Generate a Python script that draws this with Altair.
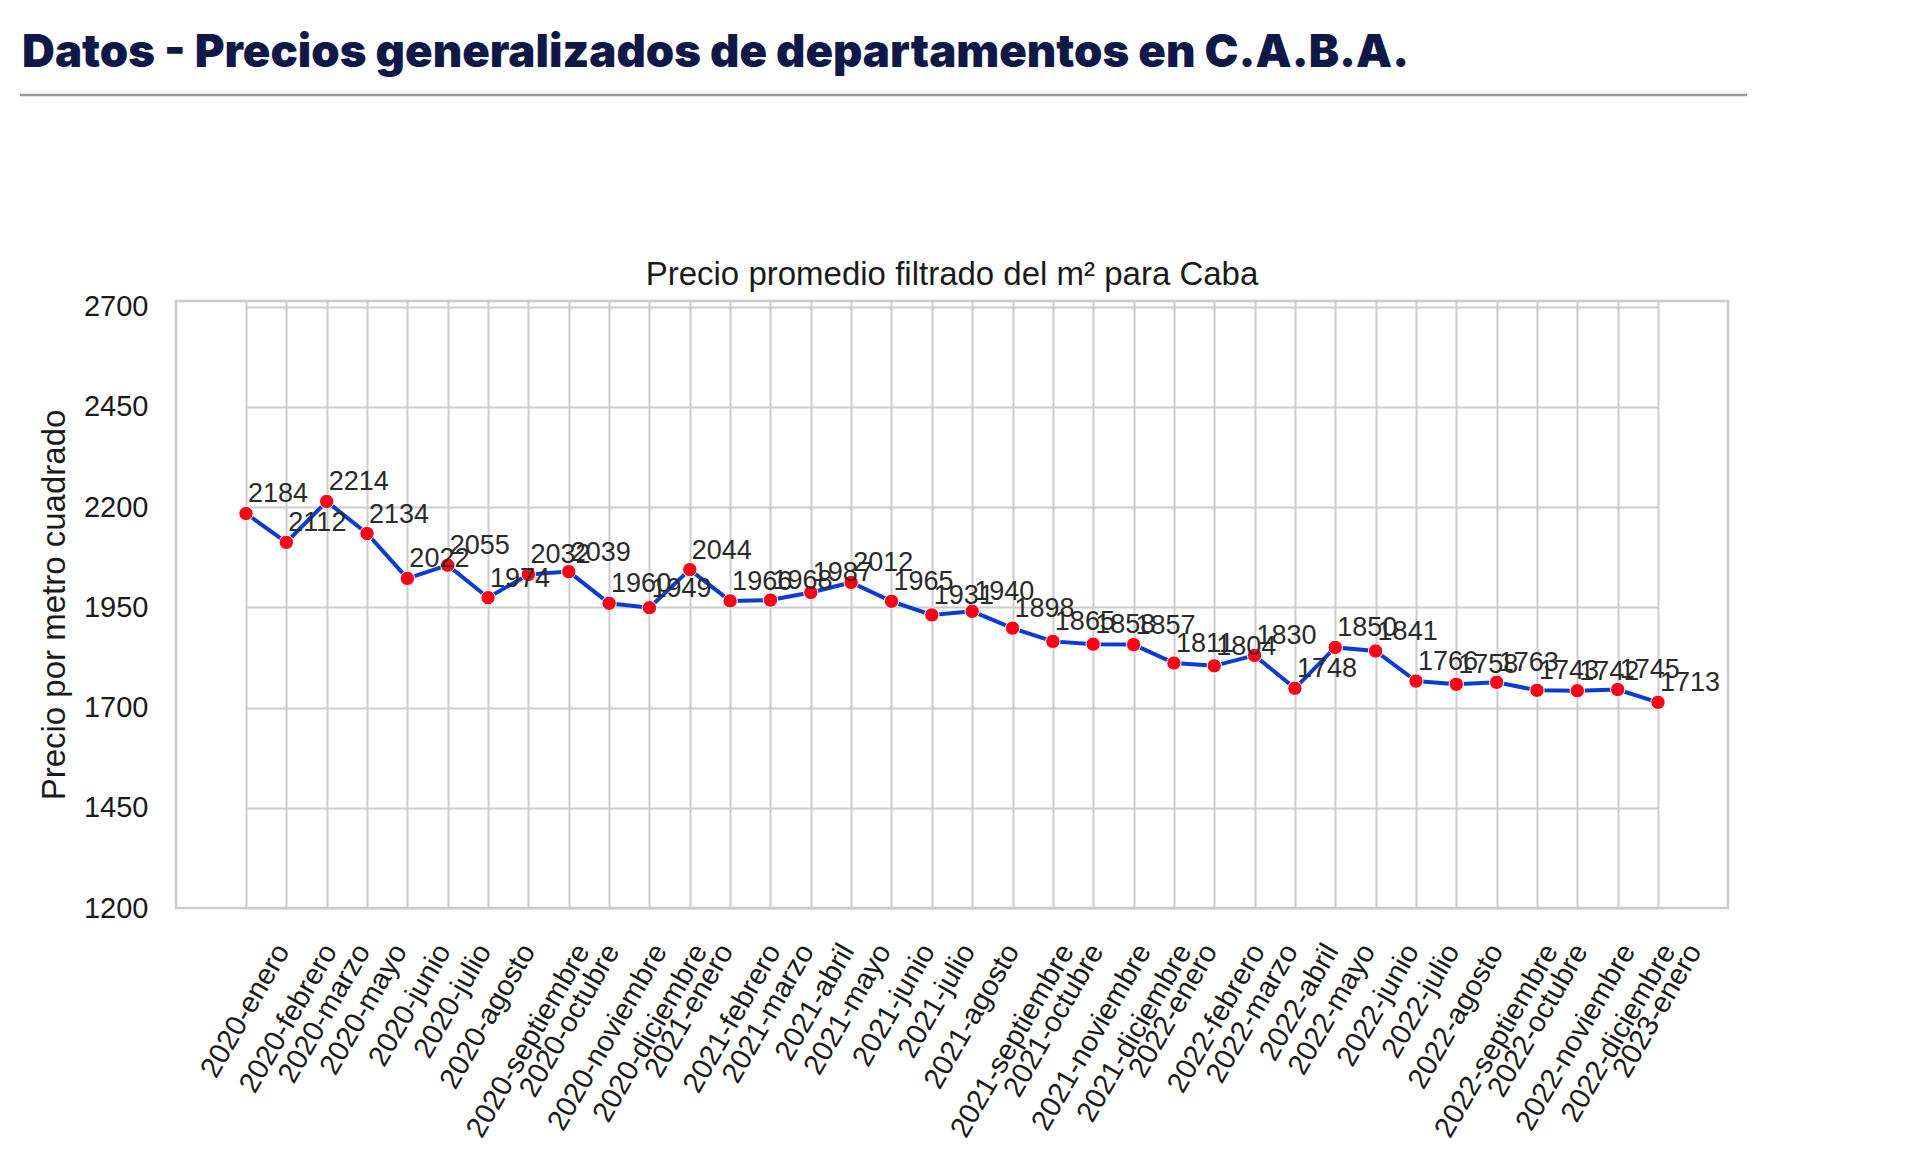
import altair as alt
import pandas as pd

TITLE = "Datos - Precios generalizados de departamentos en C.A.B.A."
CHART_TITLE = "Precio promedio filtrado del m² para Caba"
Y_TITLE = "Precio por metro cuadrado"

meses = [
    "2020-enero", "2020-febrero", "2020-marzo", "2020-mayo", "2020-junio", "2020-julio",
    "2020-agosto", "2020-septiembre", "2020-octubre", "2020-noviembre", "2020-diciembre",
    "2021-enero", "2021-febrero", "2021-marzo", "2021-abril", "2021-mayo", "2021-junio",
    "2021-julio", "2021-agosto", "2021-septiembre", "2021-octubre", "2021-noviembre",
    "2021-diciembre", "2022-enero", "2022-febrero", "2022-marzo", "2022-abril", "2022-mayo",
    "2022-junio", "2022-julio", "2022-agosto", "2022-septiembre", "2022-octubre",
    "2022-noviembre", "2022-diciembre", "2023-enero",
]
precios = [
    2184, 2112, 2214, 2134, 2022, 2055, 1974, 2032, 2039, 1960, 1949,
    2044, 1966, 1968, 1987, 2012, 1965, 1931, 1940, 1898, 1865, 1858,
    1857, 1811, 1804, 1830, 1748, 1850, 1841, 1766, 1758, 1763, 1743,
    1742, 1745, 1713,
]
y_ticks = [1200, 1450, 1700, 1950, 2200, 2450, 2700]

df = pd.DataFrame({"mes": meses, "precio": precios})

W, H = 1552, 607
FONT = "Liberation Sans"
TXT = "#1a1a1a"
GRID = "#cccccc"

x_enc = alt.X(
    "mes:N", sort=meses, title=None,
    scale=alt.Scale(type="point", range=[70, 1482], padding=0),
    axis=alt.Axis(
        labelAngle=300, labelAlign="right", labelBaseline="middle",
        labelFont=FONT, labelFontSize=29, labelColor=TXT,
        labelPadding=38, labelOffset={"expr": "3.6*length(datum.label)"},
        labelOverlap=False, labelLimit=500,
        ticks=False, domain=False, grid=True, gridColor=GRID, gridWidth=2,
    ),
)
y_enc = alt.Y(
    "precio:Q", title=Y_TITLE,
    scale=alt.Scale(domain=[1200, 2714], nice=False, zero=False),
    axis=alt.Axis(
        values=y_ticks, format="d", labelFont=FONT, labelFontSize=29,
        labelColor=TXT, labelPadding=28, ticks=False, domain=False, grid=True,
        gridColor=GRID, gridWidth=2,
        titleFont=FONT, titleFontSize=33, titleFontWeight="normal",
        titleColor=TXT, titlePadding=11.5,
    ),
)

base = alt.Chart(df).encode(x=x_enc, y=y_enc)

line = base.mark_line(color="#0a3bd3", strokeWidth=4)
pts = base.mark_circle(size=205, fill="#ff0016", stroke="white", strokeWidth=1, opacity=1)
labels = base.mark_text(
    align="left", baseline="alphabetic", dx=2, dy=-11,
    font=FONT, fontSize=27, color="#2a2a2a",
).encode(text="precio:Q")

head = alt.Chart(pd.DataFrame({"t": [TITLE]})).mark_text(
    align="left", baseline="alphabetic", font="Inter", fontSize=45.5,
    fontWeight=900, color="#101847",
).encode(text="t:N", x=alt.value(-154), y=alt.value(-234))

rule = alt.Chart(pd.DataFrame({"t": [0]})).mark_rule(
    color="#9a9a9a", strokeWidth=2.5
).encode(x=alt.value(-156), x2=alt.value(1571), y=alt.value(-206))

ptitle = alt.Chart(pd.DataFrame({"t": [CHART_TITLE]})).mark_text(
    align="center", baseline="alphabetic", font=FONT, fontSize=33, color=TXT,
).encode(text="t:N", x=alt.value(W / 2), y=alt.value(-16))

chart = alt.layer(line, pts, labels, head, rule, ptitle).properties(
    width=W, height=H,
    autosize=alt.AutoSizeParams(type="none"),
    padding={"left": 168, "top": 293, "right": 184, "bottom": 250},
).configure_view(stroke=GRID, strokeWidth=2.5)

chart.save("out.html", embed_options={"renderer": "svg", "actions": False})
